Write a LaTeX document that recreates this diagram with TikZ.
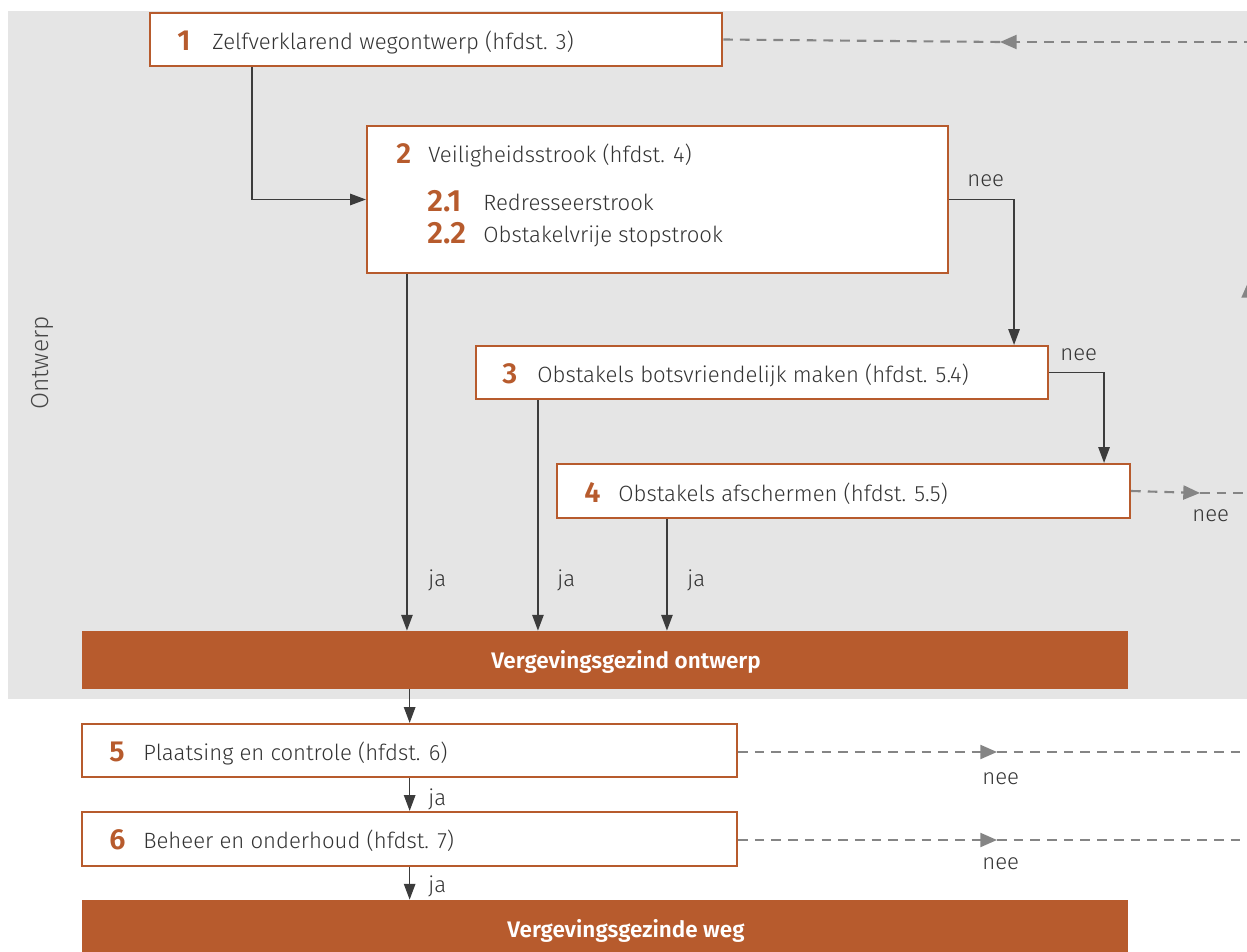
\documentclass[tikz,border=0pt]{standalone}
\usepackage{fontspec}
\setmainfont{Fira Sans}[UprightFont={* Light}, BoldFont={* SemiBold}]
\usetikzlibrary{arrows.meta,calc,fit}
\definecolor{rust}{HTML}{B75B2D}
\definecolor{panel}{HTML}{E5E5E5}
\definecolor{ink}{HTML}{333333}
\definecolor{flow}{HTML}{3C3C3C}
\definecolor{loop}{HTML}{858585}
\tikzset{
  stepbox/.style={draw=rust, line width=1.2pt, fill=white, inner sep=0pt},
  bar/.style={fill=rust, draw=none, inner sep=0pt},
  num/.style={anchor=base west, inner sep=0pt, text=rust, font=\fontsize{16.5}{16.5}\selectfont\bfseries},
  subnum/.style={num, font=\fontsize{17.5}{17.5}\selectfont\bfseries},
  txt/.style={anchor=base west, inner sep=0pt, text=ink, font=\fontsize{12.6}{12.6}\selectfont},
  bartxt/.style={anchor=base, inner sep=0pt, text=white, font=\fontsize{12.8}{12.8}\selectfont\bfseries},
  lbl/.style={anchor=base west, inner sep=0pt, text=ink, font=\fontsize{12.6}{12.6}\selectfont},
  flowarrow/.style={draw=flow, line width=0.8pt, -{Triangle[length=9pt,width=6.5pt]}},
  loopline/.style={draw=loop, line width=1.2pt, dash pattern=on 5.5pt off 4pt},
  looparrow/.style={loopline, -{Triangle[length=9.5pt,width=8pt]}},
}
\begin{document}
\begin{tikzpicture}[x=0.02cm, y=-0.02cm]
\useasboundingbox (0,0) rectangle (1247,952);
% design phase panel
\fill[panel] (8,11) rectangle (1247,699);
\node[rotate=90, text=ink!90, font=\fontsize{14}{14}\selectfont, inner sep=0pt] (phase) at (42,363) {Ontwerp};

% steps
\node[stepbox, fit={(150,13) (722,66)}] (b1) {};
\node[stepbox, fit={(367,126) (948,273)}] (b2) {};
\node[stepbox, fit={(476,346) (1048,399)}] (b3) {};
\node[stepbox, fit={(557,464) (1130,518)}] (b4) {};
\node[bar, fit={(82,631) (1128,689)}] (r1) {};
\node[stepbox, fit={(82,724) (737,777)}] (b5) {};
\node[stepbox, fit={(82,812) (737,866)}] (b6) {};
\node[bar, fit={(82,900) (1128,960)}] (r2) {};

% step texts
\node[num] (n1) at (177,51) {1};
\node[txt] (t1) at (212,50) {Zelfverklarend wegontwerp (hfdst. 3)};
\node[num] (n2) at (396,164) {2};
\node[txt] (t2) at (428,163) {Veiligheidsstrook (hfdst. 4)};
\node[subnum] (n21) at (427,212) {2.1};
\node[txt] (t21) at (483,211) {Redresseerstrook};
\node[subnum] (n22) at (427,244) {2.2};
\node[txt] (t22) at (483,243) {Obstakelvrije stopstrook};
\node[num] (n3) at (502,384) {3};
\node[txt] (t3) at (537,383) {Obstakels botsvriendelijk maken (hfdst. 5.4)};
\node[num] (n4) at (584,502) {4};
\node[txt] (t4) at (618,501) {Obstakels afschermen (hfdst. 5.5)};
\node[num] (n5) at (109,761) {5};
\node[txt] (t5) at (143,760) {Plaatsing en controle (hfdst. 6)};
\node[num] (n6) at (109,849) {6};
\node[txt] (t6) at (143,848) {Beheer en onderhoud (hfdst. 7)};
\node[bartxt] (rt1) at (626,668) {Vergevingsgezind ontwerp};
\node[bartxt] (rt2) at (626,937) {Vergevingsgezinde weg};

% main flow
\draw[flowarrow] ($(b1.south west)+(103,0)$) |- (b2.west);
\draw[flowarrow] ($(b2.south west)+(41,0)$) coordinate (p2) -- (p2 |- r1.north);
\draw[flowarrow] (b2.east) -| ($(b3.north east)+(-35,0)$);
\draw[flowarrow] (b3.east) -| ($(b4.north east)+(-27,0)$);
\draw[flowarrow] ($(b3.south west)+(63,0)$) coordinate (p3) -- (p3 |- r1.north);
\draw[flowarrow] ($(b4.south west)+(111,0)$) coordinate (p4) -- (p4 |- r1.north);
\draw[flowarrow] ($(r1.south west)+(328,0)$) coordinate (p5) -- (p5 |- b5.north);
\draw[flowarrow] (p5 |- b5.south) -- (p5 |- b6.north);
\draw[flowarrow] (p5 |- b6.south) -- (p5 |- r2.north);

% flow labels
\node[lbl] (ja1) at (428,586) {ja};
\node[lbl] (ja2) at (557,586) {ja};
\node[lbl] (ja3) at (687,586) {ja};
\node[lbl] (ja4) at (428,805) {ja};
\node[lbl] (ja5) at (428,892) {ja};
\node[lbl] (nee1) at (967,187) {nee};
\node[lbl] (nee2) at (1060,361) {nee};

% feedback loop back to step 1
\coordinate (m4) at (1200,493);
\coordinate (e4) at (1252,493);
\coordinate (m5) at (997,752);
\coordinate (e5) at (1252,752);
\coordinate (m6) at (997,840);
\coordinate (e6) at (1252,840);
\coordinate (up0) at (1248.6,960);
\coordinate (up1) at (1248.6,281);
\coordinate (back) at (1000,42);
\draw[looparrow] (b4.east) -- (m4);
\draw[loopline] (m4) -- (e4);
\draw[looparrow] (b5.east |- m5) -- (m5);
\draw[loopline] (m5) -- (e5);
\draw[looparrow] (b6.east |- m6) -- (m6);
\draw[loopline] (m6) -- (e6);
\draw[looparrow] (up0) -- (up1);
\draw[looparrow] (up1) |- (back);
\draw[loopline] (back) -- (b1.east);
\node[lbl] (nee3) at (1192,521) {nee};
\node[lbl] (nee4) at (982,784) {nee};
\node[lbl] (nee5) at (982,869) {nee};
\end{tikzpicture}
\end{document}
